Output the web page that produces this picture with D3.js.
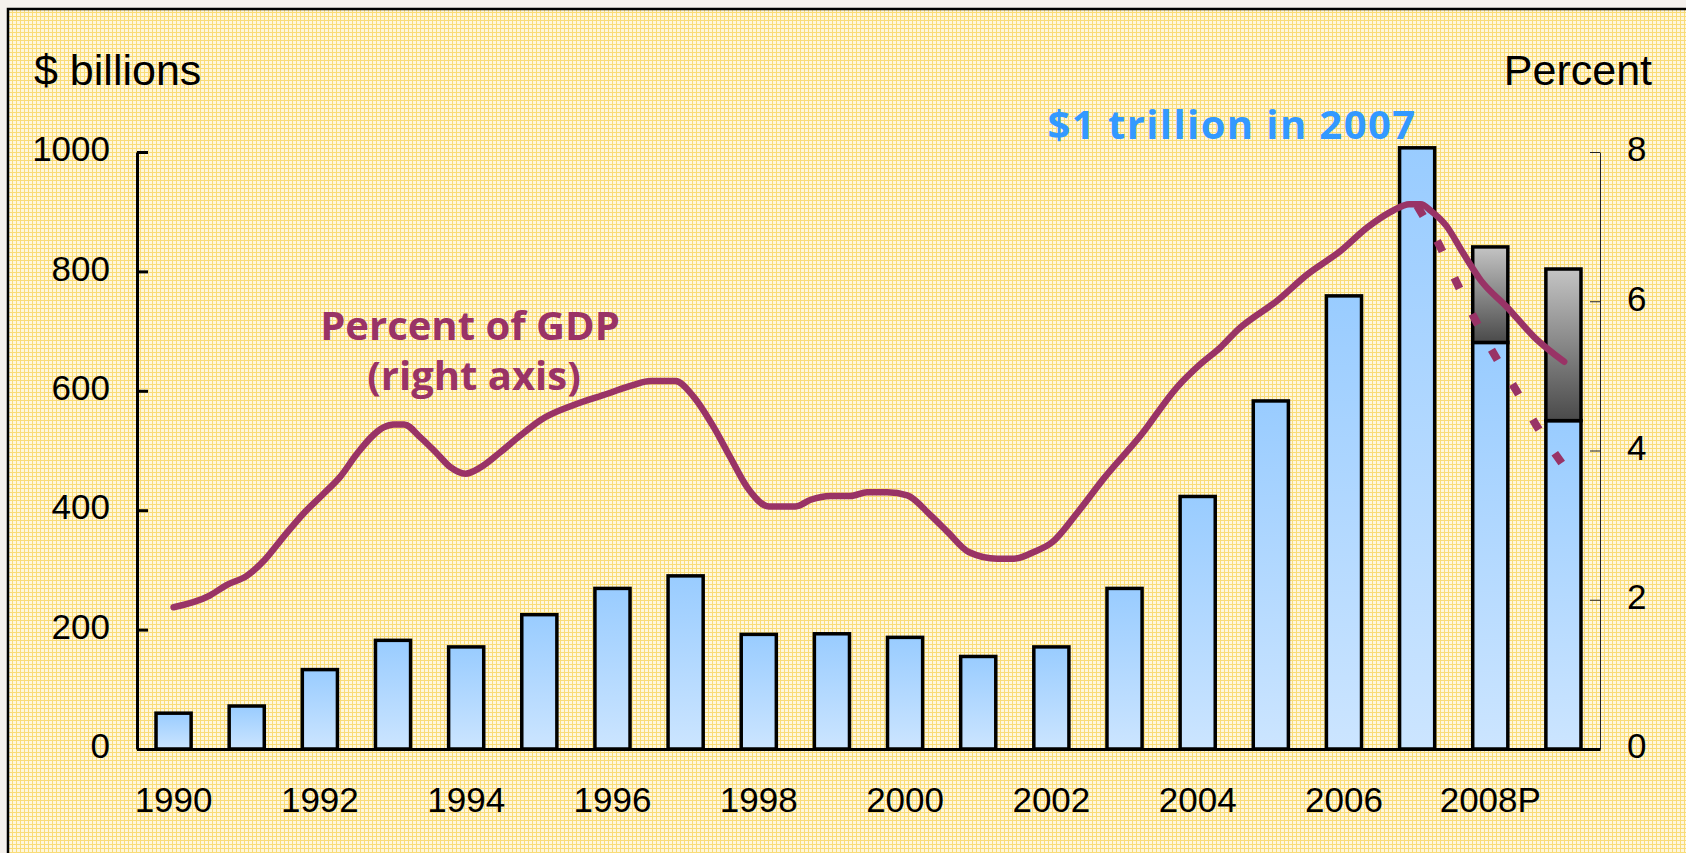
<!DOCTYPE html>
<html>
<head>
<meta charset="utf-8">
<style>
body { margin: 0; background: #f5f1ed; }
.axis text { font-family: "Liberation Sans", Arial, sans-serif; font-size: 35px; fill: #000; }
.axis-left .domain, .axis-bottom .domain { stroke: #000; stroke-width: 3px; }
.axis-left .tick line { stroke: #000; stroke-width: 3px; }
.axis-right .domain, .axis-right .tick line { stroke: #222; stroke-width: 1px; }
.bar { stroke: #000; stroke-width: 3.5px; }
.pct-line { fill: none; stroke: #993366; stroke-width: 6.5px; stroke-linejoin: round; stroke-linecap: round; }
.pct-dash { fill: none; stroke: #993366; stroke-width: 8px; stroke-dasharray: 12 28.5; }
.title { font-family: "Liberation Sans", Arial, sans-serif; font-size: 43px; fill: #000; }
.note { font-family: "Open Sans", sans-serif; font-weight: bold; }
</style>
</head>
<body>
<svg width="1686" height="853" id="chart"></svg>
<script src="https://d3js.org/d3.v7.min.js"></script>
<script>
// bars, $ billions
var categories = ["1990","1991","1992","1993","1994","1995","1996","1997","1998","1999",
                  "2000","2001","2002","2003","2004","2005","2006","2007","2008P","2009P"];
var baseValues = [60,72,133,182,171,225,269,290,192,193,187,155,171,269,423,583,759,1007,681,550];
var extraValues = [0,0,0,0,0,0,0,0,0,0,0,0,0,0,0,0,0,0,160,254];
var xTickLabels = ["1990","1992","1994","1996","1998","2000","2002","2004","2006","2008P"];
var leftTicks = [0,200,400,600,800,1000];
var rightTicks = [0,2,4,6,8];

// percent of GDP (right axis)
var pctYears = [1990.00,1990.50,1990.73,1991.00,1991.25,1991.50,1991.78,1992.05,1992.28,1992.51,
                1992.87,1993.01,1993.15,1993.37,1993.60,1993.78,1993.99,1994.19,1994.47,1994.74,
                1995.02,1995.47,1995.93,1996.29,1996.52,1996.86,1997.11,1997.38,1997.61,1997.84,
                1998.14,1998.50,1998.71,1998.98,1999.25,1999.48,1999.76,2000.03,2000.35,2000.58,
                2000.87,2001.26,2001.49,2001.76,2002.01,2002.35,2002.72,2003.22,2003.72,2004.04,
                2004.32,2004.54,2005.09,2005.50,2005.96,2006.32,2006.68,2006.89,2007.05,2007.19,
                2007.40,2007.62,2007.87,2008.23,2008.60,2009.01];
var pctValues = [1.90,2.06,2.20,2.32,2.54,2.84,3.16,3.42,3.65,3.96,
                 4.31,4.35,4.35,4.18,3.96,3.78,3.69,3.77,3.98,4.20,
                 4.41,4.61,4.76,4.88,4.93,4.93,4.72,4.32,3.91,3.51,
                 3.25,3.25,3.34,3.39,3.39,3.44,3.44,3.40,3.13,2.91,
                 2.64,2.55,2.55,2.64,2.77,3.16,3.63,4.20,4.85,5.16,
                 5.39,5.61,6.01,6.36,6.68,6.99,7.22,7.30,7.30,7.21,
                 7.01,6.66,6.28,5.92,5.52,5.19];
var dashYears = [2007.00,2007.32,2007.55,2007.80,2008.10,2008.37,2008.64,2009.00];
var dashValues = [7.28,6.72,6.23,5.74,5.21,4.78,4.32,3.80];

var svg = d3.select("#chart");
var plotLeft = 137, plotRight = 1600, plotTop = 152, plotBottom = 749;

var defs = svg.append("defs");
var pat = defs.append("pattern").attr("id", "plaid")
    .attr("patternUnits", "userSpaceOnUse").attr("width", 4).attr("height", 4);
pat.append("rect").attr("width", 4).attr("height", 4).attr("fill", "#fef7dd");
pat.append("rect").attr("width", 4).attr("height", 1).attr("fill", "#f9dc78");
pat.append("rect").attr("width", 1).attr("height", 4).attr("fill", "#f9dc78");

function addGradient(id, top, bottom) {
  var lg = defs.append("linearGradient").attr("id", id)
      .attr("x1", 0).attr("y1", 0).attr("x2", 0).attr("y2", 1);
  lg.append("stop").attr("offset", "0%").attr("stop-color", top);
  lg.append("stop").attr("offset", "100%").attr("stop-color", bottom);
}
addGradient("blueGrad", "#99ccff", "#cce5ff");
addGradient("grayGrad", "#c4c4c4", "#4a4a4a");

// frame
svg.append("rect").attr("x", 8).attr("y", 9).attr("width", 1700).attr("height", 900)
    .attr("fill", "url(#plaid)").attr("stroke", "#000").attr("stroke-width", 2.5);

var x = d3.scaleBand().domain(categories).range([plotLeft, plotRight])
    .paddingInner(0.52).paddingOuter(0.26);
var yLeft = d3.scaleLinear().domain([0, 1000]).range([plotBottom, plotTop]);
var yRight = d3.scaleLinear().domain([0, 8]).range([plotBottom, plotTop]);
var xYear = d3.scaleLinear().domain([1990, 2009])
    .range([x("1990") + x.bandwidth() / 2, x("2009P") + x.bandwidth() / 2]);

var rows = categories.map(function(c, i) {
  return {cat: c, base: baseValues[i], extra: extraValues[i]};
});

svg.selectAll(".bar-base").data(rows).enter().append("rect")
    .attr("class", "bar bar-base")
    .attr("x", function(d) { return x(d.cat); })
    .attr("y", function(d) { return yLeft(d.base); })
    .attr("width", x.bandwidth())
    .attr("height", function(d) { return yLeft(0) - yLeft(d.base); })
    .attr("fill", "url(#blueGrad)");

svg.selectAll(".bar-extra").data(rows.filter(function(d) { return d.extra > 0; })).enter().append("rect")
    .attr("class", "bar bar-extra")
    .attr("x", function(d) { return x(d.cat); })
    .attr("y", function(d) { return yLeft(d.base + d.extra); })
    .attr("width", x.bandwidth())
    .attr("height", function(d) { return yLeft(d.base) - yLeft(d.base + d.extra); })
    .attr("fill", "url(#grayGrad)");

// axes
svg.append("g").attr("class", "axis axis-right")
    .attr("transform", "translate(" + plotRight + ",0)")
    .call(d3.axisRight(yRight).tickValues(rightTicks).tickFormat(d3.format("d"))
      .tickSizeInner(-10).tickSizeOuter(0).tickPadding(27))
    .selectAll("text").attr("dy", "0.25em");

svg.append("g").attr("class", "axis axis-left")
    .attr("transform", "translate(" + plotLeft + ",0)")
    .call(d3.axisLeft(yLeft).tickValues(leftTicks).tickFormat(d3.format("d"))
      .tickSizeInner(-11).tickSizeOuter(0).tickPadding(27))
    .selectAll("text").attr("dy", "0.25em");

svg.append("g").attr("class", "axis axis-bottom")
    .attr("transform", "translate(0," + plotBottom + ")")
    .call(d3.axisBottom(x).tickValues(xTickLabels).tickSize(0).tickPadding(38));

// percent of GDP line
var line = d3.line()
    .curve(d3.curveMonotoneX)
    .x(function(d) { return xYear(d[0]); })
    .y(function(d) { return yRight(d[1]); });

svg.append("path").attr("class", "pct-line")
    .attr("d", line(d3.zip(pctYears, pctValues)));
svg.append("path").attr("class", "pct-dash")
    .attr("d", line(d3.zip(dashYears, dashValues)));

// labels
svg.append("text").attr("class", "title").attr("x", 34).attr("y", 85).text("$ billions");
svg.append("text").attr("class", "title").attr("x", 1652).attr("y", 85)
    .attr("text-anchor", "end").text("Percent");

svg.append("text").attr("class", "note")
    .attr("x", 1232).attr("y", 139).attr("text-anchor", "middle")
    .style("font-size", "40px").style("letter-spacing", "1.4px").style("fill", "#3399ff")
    .text("$1 trillion in 2007");

var gdpNote = svg.append("text").attr("class", "note")
    .style("font-size", "40px").style("fill", "#993366")
    .attr("text-anchor", "middle");
gdpNote.append("tspan").attr("x", 470).attr("y", 340).text("Percent of GDP");
gdpNote.append("tspan").attr("x", 474).attr("y", 390).text("(right axis)");
</script>
</body>
</html>
